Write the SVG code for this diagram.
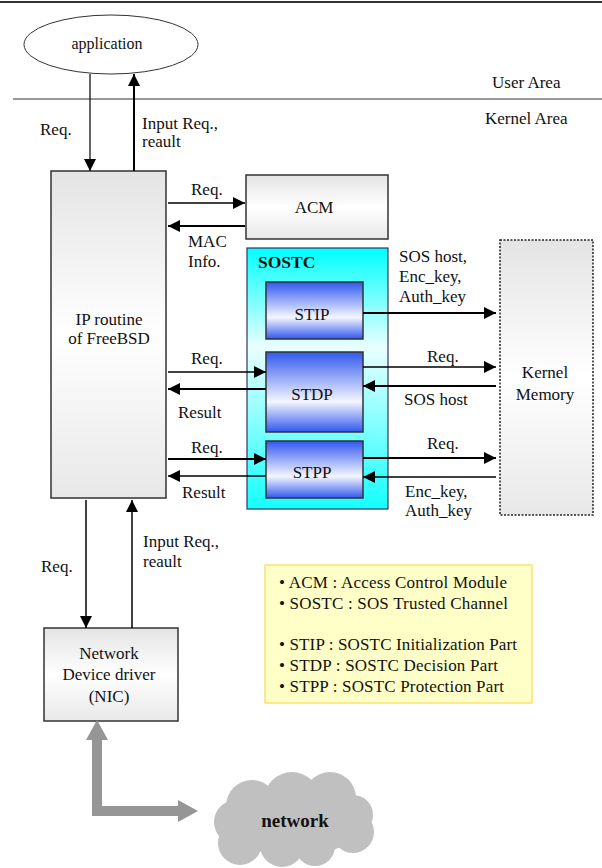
<svg xmlns="http://www.w3.org/2000/svg" width="602" height="868" viewBox="0 0 602 868">
  <style>
    text { font-family: "Liberation Serif", "Times New Roman", serif; font-size: 17px; fill: #111; }
    .b { font-weight: bold; }
    .mid { text-anchor: middle; }
    .box { stroke: #333; stroke-width: 1.5; }
    .wire { stroke: #000; stroke-width: 1.5; fill: none; }
    .thick { stroke-width: 2; }
  </style>
  <defs>
    <linearGradient id="gGray" x1="0" y1="0" x2="0" y2="1">
      <stop offset="0" stop-color="#e4e4e4"/>
      <stop offset="0.5" stop-color="#ffffff"/>
      <stop offset="1" stop-color="#e8e8e8"/>
    </linearGradient>
    <linearGradient id="gCyan" x1="0" y1="0" x2="0" y2="1">
      <stop offset="0" stop-color="#00ffff"/>
      <stop offset="0.38" stop-color="#eaffff"/>
      <stop offset="1" stop-color="#14ffff"/>
    </linearGradient>
    <linearGradient id="gBlue" x1="0" y1="0" x2="0" y2="1">
      <stop offset="0" stop-color="#3158ee"/>
      <stop offset="0.62" stop-color="#f4f6ff"/>
      <stop offset="1" stop-color="#3158ee"/>
    </linearGradient>
    <marker id="ah" markerWidth="12" markerHeight="12" refX="12" refY="6" orient="auto" markerUnits="userSpaceOnUse">
      <path d="M0,0 L12,6 L0,12 z" fill="#000"/>
    </marker>
    <marker id="bigHead" markerWidth="20" markerHeight="22" refX="0" refY="11" orient="auto-start-reverse" markerUnits="userSpaceOnUse">
      <path d="M0,0 L20,11 L0,22 z" fill="#969696"/>
    </marker>
  </defs>

  <!-- page frame and area divider -->
  <line x1="0" y1="2" x2="602" y2="2" stroke="#333" stroke-width="2"/>
  <line x1="13" y1="99" x2="602" y2="99" stroke="#333" stroke-width="1"/>
  <text x="492" y="88">User Area</text>
  <text x="485" y="124">Kernel Area</text>

  <g id="application">
    <ellipse cx="111" cy="44.5" rx="87" ry="29.5" fill="#fff" stroke="#333" stroke-width="1"/>
    <text class="mid" x="107" y="49" style="font-size:16px">application</text>
  </g>

  <g id="ip-routine">
    <rect class="box" x="51" y="171" width="115" height="327" fill="url(#gGray)"/>
    <text class="mid" x="109" y="325">IP routine</text>
    <text class="mid" x="109" y="344">of FreeBSD</text>
  </g>

  <g id="acm">
    <rect class="box" x="246" y="175" width="142" height="64" fill="url(#gGray)"/>
    <text class="mid" x="314" y="213">ACM</text>
  </g>

  <g id="sostc">
    <rect x="247" y="248" width="141" height="261" fill="url(#gCyan)" stroke="#336" stroke-width="1.2"/>
    <text class="b" x="258" y="268" style="font-size:17.5px">SOSTC</text>
  </g>

  <g id="stip">
    <rect class="box" x="266" y="282" width="97" height="57" fill="url(#gBlue)"/>
    <text class="mid" x="312" y="320">STIP</text>
  </g>

  <g id="stdp">
    <rect class="box" x="266" y="352" width="97" height="80" fill="url(#gBlue)"/>
    <text class="mid" x="312" y="400">STDP</text>
  </g>

  <g id="stpp">
    <rect class="box" x="266" y="441" width="97" height="57" fill="url(#gBlue)"/>
    <text class="mid" x="312" y="478">STPP</text>
  </g>

  <g id="kernel-memory">
    <rect x="500" y="240" width="93" height="275" fill="url(#gGray)" stroke="#222" stroke-width="1.5" stroke-dasharray="2,1.5"/>
    <text class="mid" x="545" y="378">Kernel</text>
    <text class="mid" x="545" y="400">Memory</text>
  </g>

  <g id="nic">
    <rect class="box" x="44" y="628" width="134" height="93" fill="url(#gGray)"/>
    <text class="mid" x="109" y="659">Network</text>
    <text class="mid" x="109" y="680">Device driver</text>
    <text class="mid" x="109" y="702">(NIC)</text>
  </g>

  <g id="network">
    <g fill="#c0c0c0">
      <ellipse cx="295" cy="825" rx="62" ry="32"/>
      <circle cx="252" cy="806" r="26"/>
      <circle cx="292" cy="800" r="28"/>
      <circle cx="330" cy="798" r="26"/>
      <circle cx="353" cy="815" r="20"/>
      <circle cx="353" cy="832" r="21"/>
      <circle cx="236" cy="822" r="22"/>
      <circle cx="240" cy="843" r="22"/>
      <circle cx="282" cy="845" r="22"/>
      <circle cx="315" cy="846" r="20"/>
    </g>
    <text class="b mid" x="295" y="827" style="font-size:19px">network</text>
  </g>

  <g id="legend">
    <rect x="265" y="565" width="267" height="138" fill="#ffffc8" stroke="#ffe070" stroke-width="1.5"/>
    <text x="279" y="588" textLength="228" lengthAdjust="spacing">• ACM : Access Control Module</text>
    <text x="279" y="609" textLength="229" lengthAdjust="spacing">• SOSTC : SOS Trusted Channel</text>
    <text x="279" y="650" textLength="238" lengthAdjust="spacing">• STIP : SOSTC Initialization Part</text>
    <text x="279" y="671" textLength="219" lengthAdjust="spacing">• STDP : SOSTC Decision Part</text>
    <text x="279" y="692" textLength="225" lengthAdjust="spacing">• STPP : SOSTC Protection Part</text>
  </g>

  <g id="connectors">
    <!-- application <-> IP routine -->
    <line class="wire" x1="90" y1="74" x2="90" y2="171" marker-end="url(#ah)" style="stroke-width:1.2"/>
    <line class="wire thick" x1="134" y1="171" x2="134" y2="74" marker-end="url(#ah)"/>
    <!-- IP routine <-> ACM -->
    <line class="wire" x1="168" y1="203" x2="245" y2="203" marker-end="url(#ah)"/>
    <line class="wire thick" x1="245" y1="226" x2="168" y2="226" marker-end="url(#ah)"/>
    <!-- IP routine <-> STDP -->
    <line class="wire" x1="168" y1="372" x2="266" y2="372" marker-end="url(#ah)"/>
    <line class="wire thick" x1="266" y1="389" x2="168" y2="389" marker-end="url(#ah)"/>
    <!-- IP routine <-> STPP -->
    <line class="wire thick" x1="168" y1="459" x2="266" y2="459" marker-end="url(#ah)"/>
    <line class="wire" x1="266" y1="476" x2="168" y2="476" marker-end="url(#ah)"/>
    <!-- SOSTC parts <-> Kernel Memory -->
    <line class="wire thick" x1="363" y1="313" x2="496" y2="313" marker-end="url(#ah)"/>
    <line class="wire" x1="363" y1="367" x2="496" y2="367" marker-end="url(#ah)"/>
    <line class="wire thick" x1="496" y1="386" x2="363" y2="386" marker-end="url(#ah)"/>
    <line class="wire thick" x1="363" y1="458" x2="496" y2="458" marker-end="url(#ah)"/>
    <line class="wire" x1="496" y1="477" x2="363" y2="477" marker-end="url(#ah)"/>
    <!-- IP routine <-> NIC -->
    <line class="wire" x1="86" y1="500" x2="86" y2="628" marker-end="url(#ah)"/>
    <line class="wire" x1="132" y1="628" x2="132" y2="500" marker-end="url(#ah)"/>
    <!-- NIC <-> network -->
    <path d="M97,740 L97,811 L178,811" fill="none" stroke="#969696" stroke-width="10" marker-start="url(#bigHead)" marker-end="url(#bigHead)"/>

    <!-- labels -->
    <text x="40" y="135">Req.</text>
    <text x="142" y="129">Input Req.,</text>
    <text x="142" y="147">reault</text>
    <text x="191" y="195">Req.</text>
    <text x="188" y="247">MAC</text>
    <text x="188" y="267">Info.</text>
    <text x="399" y="262">SOS host,</text>
    <text x="399" y="282">Enc_key,</text>
    <text x="399" y="302">Auth_key</text>
    <text x="191" y="364">Req.</text>
    <text x="178" y="418">Result</text>
    <text x="191" y="453">Req.</text>
    <text x="182" y="498">Result</text>
    <text x="427" y="362">Req.</text>
    <text x="404" y="405">SOS host</text>
    <text x="427" y="449">Req.</text>
    <text x="405" y="497">Enc_key,</text>
    <text x="405" y="516">Auth_key</text>
    <text x="41" y="572">Req.</text>
    <text x="143" y="547">Input Req.,</text>
    <text x="143" y="567">reault</text>
  </g>
</svg>
